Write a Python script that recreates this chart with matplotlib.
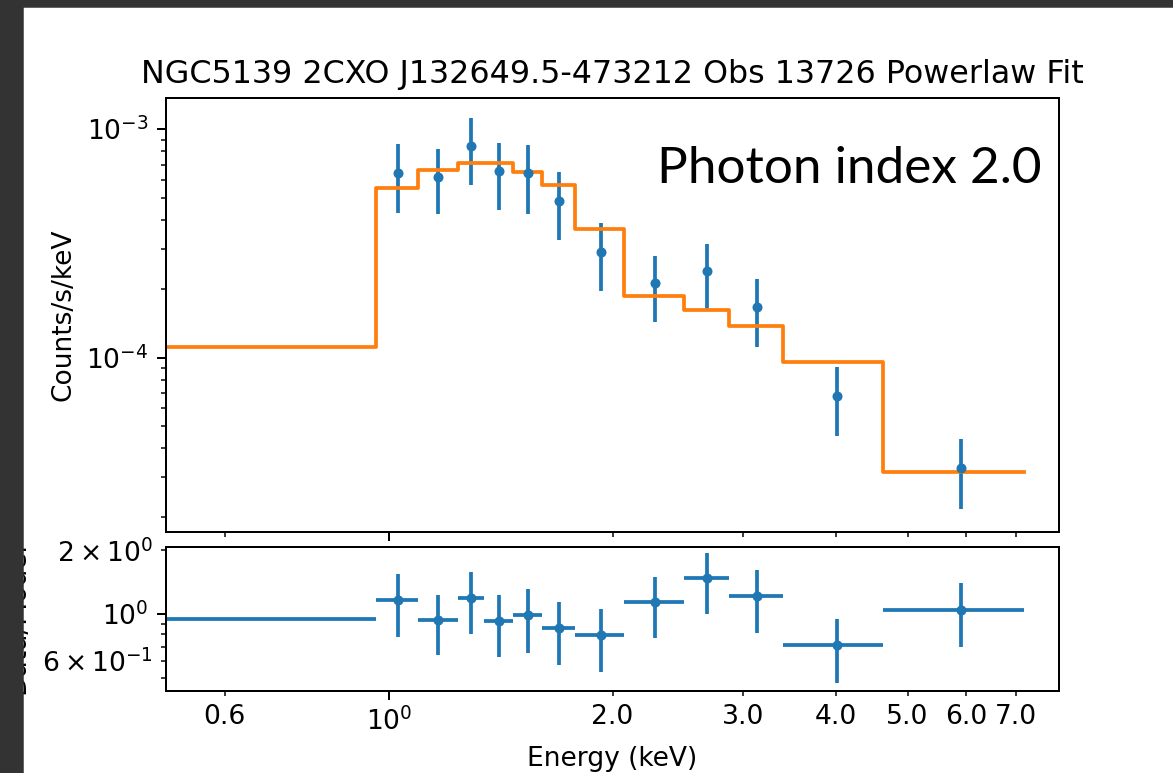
import numpy as np
import matplotlib.pyplot as plt
from matplotlib.patches import Rectangle
from matplotlib.ticker import FixedLocator, FormatStrFormatter

plt.rcParams['font.family'] = 'DejaVu Sans'
plt.rcParams['font.size'] = 10.6

# grouped spectrum bin edges (keV)
bin_edges = [0.5, 0.96, 1.092, 1.238, 1.341, 1.469, 1.605, 1.781,
             2.073, 2.497, 2.873, 3.391, 4.634, 7.171]

# folded powerlaw model, one value per bin (counts/s/keV)
model_rate = [1.107e-4, 5.55e-4, 6.64e-4, 7.10e-4, 7.10e-4, 6.52e-4, 5.69e-4,
              3.65e-4, 1.862e-4, 1.622e-4, 1.368e-4, 9.55e-5, 3.14e-5]

# observed rate and 1-sigma errors, bins above 0.96 keV
obs_rate = [6.46e-4, 6.20e-4, 8.45e-4, 6.59e-4, 6.42e-4, 4.87e-4,
            2.91e-4, 2.117e-4, 2.39e-4, 1.667e-4, 6.80e-5, 3.28e-5]
obs_err = [2.15e-4, 1.96e-4, 2.76e-4, 2.15e-4, 2.15e-4, 1.60e-4,
           0.96e-4, 0.68e-4, 0.76e-4, 0.55e-4, 2.28e-5, 1.1e-5]

# ratio in the lowest bin (no rate point drawn there)
low_bin_ratio = 0.949

energy_ticks = [0.6, 2, 3, 4, 5, 6, 7]

edges = np.array(bin_edges)
model = np.array(model_rate)
lo, hi = edges[1:-1], edges[2:]
e_mid = (lo + hi) / 2
e_half = (hi - lo) / 2
rate = np.array(obs_rate)
err = np.array(obs_err)
ratio = rate / model[1:]
ratio_err = err / model[1:]

W, H, DPI = 1173, 773, 180
fig = plt.figure(figsize=(W / DPI, H / DPI), dpi=DPI)
left, width = 166 / W, 893 / W
ax = fig.add_axes([left, 1 - 531.5 / H, width, 433.5 / H])
axr = fig.add_axes([left, 1 - 690.5 / H, width, 144 / H], sharex=ax)

ax.errorbar(e_mid, rate, yerr=err, fmt='.')
ax.step(edges, np.append(model, model[-1]), where='post')
ax.set_xscale('log')
ax.set_yscale('log')
ax.set_xlim(0.5, 8.0)
ax.set_ylim(1.73e-5, 1.37e-3)
ax.set_ylabel('Counts/s/keV')
ax.set_title('NGC5139 2CXO J132649.5-473212 Obs 13726 Powerlaw Fit')
ax.tick_params(which='both', labelbottom=False)
ax.text((1041 - 166) / 893, (531.5 - 183.3) / 433.5,
        'Photon index 2.0', transform=ax.transAxes, ha='right',
        va='baseline', fontsize=20.5, family='Lato')

axr.errorbar([(edges[0] + edges[1]) / 2], [low_bin_ratio],
             xerr=[(edges[1] - edges[0]) / 2], fmt='none', color='C0')
axr.errorbar(e_mid, ratio, xerr=e_half, yerr=ratio_err, fmt='.', color='C0')
axr.set_yscale('log')
axr.set_ylim(0.4347, 2.085)
axr.set_ylabel('Data/Model', labelpad=4.5)
axr.set_xlabel('Energy (keV)')
axr.xaxis.set_minor_locator(FixedLocator(energy_ticks))
axr.xaxis.set_minor_formatter(FormatStrFormatter('%.1f'))

# dark window frame along the top and left
fig.add_artist(Rectangle((0, 1 - 6 / H), 1, 6 / H, transform=fig.transFigure,
                         color='#333333', zorder=10))
fig.add_artist(Rectangle((0, 0), 22 / W, 1, transform=fig.transFigure,
                         color='#333333', zorder=10))

fig.savefig('out.png', dpi=DPI)
